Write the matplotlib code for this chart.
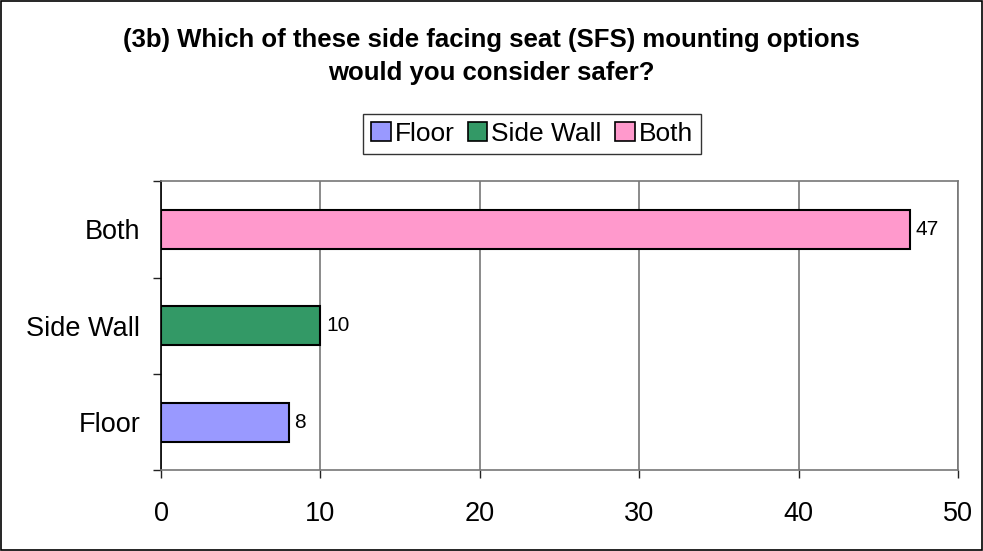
import matplotlib.pyplot as plt
from matplotlib.patches import Patch, Rectangle

plt.rcParams['font.family'] = ['Liberation Sans', 'DejaVu Sans']

# Данные
categories = ['Floor', 'Side Wall', 'Both']
values = [8, 10, 47]
colors = ['#9999FF', '#339966', '#FF99CC']
x_ticks = [0, 10, 20, 30, 40, 50]

fig = plt.figure(figsize=(9.83, 5.51), dpi=100)
ax = fig.add_axes([0.1638, 0.1461, 0.8108, 0.5254])

y = list(range(len(categories)))
ax.barh(y, values, height=0.4, color=colors, edgecolor='black', linewidth=1.5, zorder=3)

for yi, v in zip(y, values):
    ax.text(v + 0.35, yi, str(v), va='center', ha='left', fontsize=15)

ax.set_xlim(0, 50)
ax.set_ylim(-0.5, len(categories) - 0.5)
ax.set_xticks(x_ticks)
ax.set_xticklabels([str(t) for t in x_ticks], fontsize=19.5)
ax.set_yticks(y)
ax.set_yticklabels(categories, fontsize=19.5)
ax.tick_params(axis='y', length=0, pad=15)
ax.tick_params(axis='x', length=6, width=1, color='#222222', pad=16)
# засечки на границах категорий
ax.set_yticks([-0.5, 0.5, 1.5, 2.5], minor=True)
ax.tick_params(axis='y', which='minor', length=6, width=1, color='#222222')

ax.grid(axis='x', color='#777777', linewidth=1.2, zorder=0)
ax.spines['left'].set_color('black')
ax.spines['left'].set_linewidth(1.2)
for s in ['top', 'right', 'bottom']:
    ax.spines[s].set_color('#777777')
    ax.spines[s].set_linewidth(1.2)

fig.text(0.5, 0.897, '(3b) Which of these side facing seat (SFS) mounting options\nwould you consider safer?',
         ha='center', va='center', fontsize=18.5, fontweight='bold', linespacing=1.45)

handles = [Patch(facecolor=c, edgecolor='black', linewidth=1.2) for c in colors]
leg = fig.legend(handles, categories, loc='center', bbox_to_anchor=(0.541, 0.757), ncol=3,
                 fontsize=19, frameon=True, fancybox=False, edgecolor='black',
                 handlelength=0.75, handleheight=0.75, handletextpad=0.15, columnspacing=0.5,
                 borderpad=0.3, borderaxespad=0)
leg.get_frame().set_linewidth(1.0)

fig.patches.append(Rectangle((0.001, 0.001), 0.998, 0.998, transform=fig.transFigure,
                             fill=False, edgecolor='black', linewidth=1.2))

plt.savefig('out.png', dpi=100)
